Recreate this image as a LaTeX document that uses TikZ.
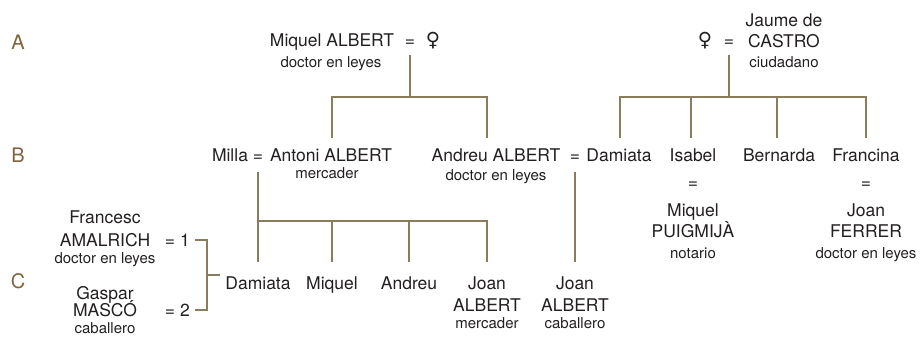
\documentclass[tikz,border=0pt]{standalone}
\usepackage{fontspec}
\setmainfont{TeX Gyre Heros}
\newfontfamily\symf{DejaVu Sans}
\definecolor{ink}{RGB}{35,31,32}
\definecolor{brn}{RGB}{128,100,58}
\definecolor{lnc}{RGB}{140,124,94}
\tikzset{
  nm/.style={font=\fontsize{17.5}{21}\selectfont, text=ink, inner sep=0pt, anchor=base},
  sb/.style={font=\fontsize{15}{18}\selectfont, text=ink, inner sep=0pt, anchor=base},
  lt/.style={font=\fontsize{20}{24}\selectfont, text=brn, inner sep=0pt, anchor=base},
  fem/.style={font=\symf\fontsize{19.5}{23}\selectfont, text=ink, inner sep=0pt, anchor=base},
  ln/.style={draw=lnc, line width=1.6pt},
}
\begin{document}
\begin{tikzpicture}[x=1pt,y=-1pt]
\useasboundingbox (0,0) rectangle (920,340);
% generation letters
\node[lt] (gA) at (18,49) {A};
\node[lt] (gB) at (18,162) {B};
\node[lt] (gC) at (18,288) {C};
% row A left
\node[nm] (miquelA) at (332,46) {Miquel ALBERT};
\node[sb] (miquelAs) at (331,67) {doctor en leyes};
\node[nm] (eqA1) at (410,46) {=};
\node[fem] (femA1) at (433,46) {♀};
% row A right
\node[fem] (femA2) at (705,46) {♀};
\node[nm] (eqA2) at (729,46) {=};
\node[nm] (jaume) at (784,26) {Jaume de};
\node[nm] (castro) at (784,47) {CASTRO};
\node[sb] (castros) at (784,67) {ciudadano};
% row B
\node[nm] (milla) at (230,161) {Milla};
\node[nm] (eqB1) at (258,161) {=};
\node[nm] (antoni) at (331,161) {Antoni ALBERT};
\node[sb] (antonis) at (327,178) {mercader};
\node[nm] (andreu) at (496,161) {Andreu ALBERT};
\node[sb] (andreus) at (496,180) {doctor en leyes};
\node[nm] (eqB2) at (575,161) {=};
\node[nm] (damiataB) at (619,161) {Damiata};
\node[nm] (isabel) at (693,161) {Isabel};
\node[nm] (bernarda) at (779,161) {Bernarda};
\node[nm] (francina) at (866,161) {Francina};
% spouses of Isabel and Francina
\node[nm] (eqI) at (693,188) {=};
\node[nm] (puig1) at (693,216) {Miquel};
\node[nm] (puig2) at (693,237) {PUIGMIJÀ};
\node[sb] (puigs) at (693,258) {notario};
\node[nm] (eqF) at (866,188) {=};
\node[nm] (ferr1) at (866,216) {Joan};
\node[nm] (ferr2) at (866,237) {FERRER};
\node[sb] (ferrs) at (866,258) {doctor en leyes};
% row C
\node[nm] (damiataC) at (258,289) {Damiata};
\node[nm] (miquelC) at (332,289) {Miquel};
\node[nm] (andreuC) at (409,289) {Andreu};
\node[nm] (joan1a) at (487,289) {Joan};
\node[nm] (joan1b) at (487,311) {ALBERT};
\node[sb] (joan1s) at (487,328) {mercader};
\node[nm] (joan2a) at (575,289) {Joan};
\node[nm] (joan2b) at (575,311) {ALBERT};
\node[sb] (joan2s) at (575,328) {caballero};
% husbands of Damiata
\node[nm] (fra1) at (105,223) {Francesc};
\node[nm] (fra2) at (105,246) {AMALRICH};
\node[sb] (fras) at (105,263) {doctor en leyes};
\node[nm] (eqC1) at (170,246) {=};
\node[nm] (one) at (185,246) {1};
\node[nm] (gas1) at (105,299) {Gaspar};
\node[nm] (gas2) at (105,316) {MASCÓ};
\node[sb] (gass) at (105,333) {caballero};
\node[nm] (eqC2) at (170,316) {=};
\node[nm] (two) at (185,316) {2};
% junction coordinates
\coordinate (cA1) at (410,97);
\coordinate (cA2) at (729,97);
\coordinate (dAnt) at (332,138);
\coordinate (dAnd) at (487,138);
\coordinate (dDam) at (620,138);
\coordinate (dIsa) at (691,138);
\coordinate (dBer) at (777,138);
\coordinate (dFra) at (866,138);
\coordinate (cB1) at (258,221);
\coordinate (dDamC) at (258,262);
\coordinate (dMiqC) at (332,262);
\coordinate (dAndC) at (409,262);
\coordinate (dJoa1) at (487,262);
\coordinate (dJoa2) at (575,262);
\coordinate (brk) at (207,275);
% connectors
\draw[ln] (eqA1.south) ++(0,9) -- (cA1);
\draw[ln] (dAnt) |- (cA1) -| (dAnd);
\draw[ln] (eqA2.south) ++(0,9) -- (cA2);
\draw[ln] (dDam) |- (cA2) -| (dFra);
\draw[ln] (dIsa) -- (dIsa |- cA2);
\draw[ln] (dBer) -- (dBer |- cA2);
\draw[ln] (eqB1.south) ++(0,11) -- (dDamC);
\draw[ln] (cB1) -| (dJoa1);
\draw[ln] (dMiqC) -- (dMiqC |- cB1);
\draw[ln] (dAndC) -- (dAndC |- cB1);
\draw[ln] (eqB2.south) ++(0,11) -- (dJoa2);
\draw[ln] ([xshift=5pt]one.east) -| (brk) |- ([xshift=5pt]two.east);
\draw[ln] (brk) -- ++(13,0);
\end{tikzpicture}
\end{document}
